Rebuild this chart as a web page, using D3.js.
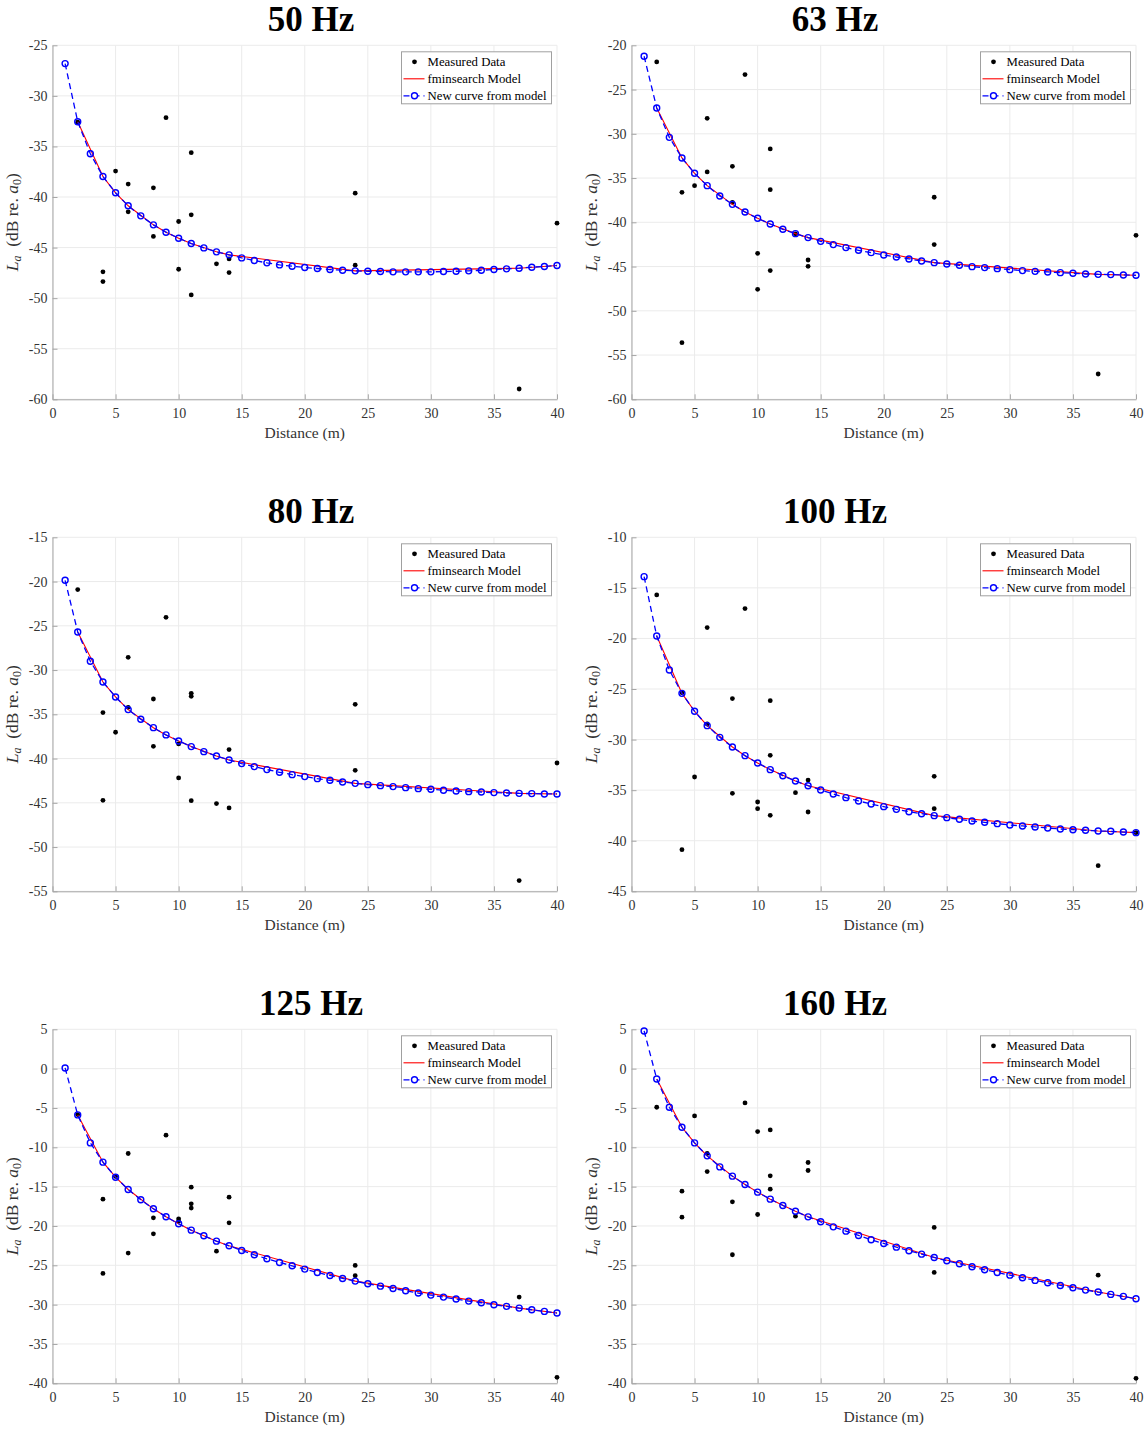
<!DOCTYPE html>
<html>
<head>
<meta charset="utf-8">
<script src="https://cdnjs.cloudflare.com/ajax/libs/d3/7.8.5/d3.min.js"></script>
<style>
  body { margin: 0; background: #fff; }
  svg text { font-family: "Liberation Serif", "Times New Roman", serif; }
</style>
</head>
<body>
<div id="chart"></div>
<script>
// band titles and y-axis ranges
var bandTitles = ["50 Hz", "63 Hz", "80 Hz", "100 Hz", "125 Hz", "160 Hz"];
var yLow = [-60, -60, -55, -45, -40, -40];
var yHigh = [-25, -20, -15, -10, 5, 5];

// distances of the "new curve" circles and of the fminsearch model line
var curveDistance = [1, 2, 3, 4, 5, 6, 7, 8, 9, 10, 11, 12, 13, 14, 15, 16, 17, 18, 19, 20,
  21, 22, 23, 24, 25, 26, 27, 28, 29, 30, 31, 32, 33, 34, 35, 36, 37, 38, 39, 40];
var modelDistance = [2, 4, 5, 6, 8, 9, 10, 11, 13, 14, 24, 37, 40];

// new curve from model (dB), one per band
var curve50 = [-26.81, -32.56, -35.72, -37.97, -39.58, -40.87, -41.86, -42.75, -43.48, -44.07, -44.6, -45.03, -45.42, -45.72, -46.02, -46.28, -46.51, -46.71, -46.84, -46.97, -47.07, -47.17, -47.24, -47.3, -47.34, -47.37, -47.4, -47.4, -47.4, -47.4, -47.37, -47.34, -47.3, -47.24, -47.17, -47.1, -47.04, -46.94, -46.87, -46.77];
var curve63 = [-21.24, -27.08, -30.4, -32.73, -34.46, -35.86, -37.02, -37.97, -38.83, -39.55, -40.19, -40.79, -41.28, -41.73, -42.15, -42.52, -42.86, -43.16, -43.43, -43.69, -43.92, -44.14, -44.37, -44.56, -44.71, -44.86, -45.01, -45.12, -45.24, -45.35, -45.46, -45.54, -45.61, -45.69, -45.76, -45.84, -45.88, -45.91, -45.95, -45.99];
var curve80 = [-19.86, -25.7, -29.01, -31.35, -33.04, -34.47, -35.56, -36.51, -37.33, -38.01, -38.65, -39.22, -39.71, -40.16, -40.57, -40.91, -41.25, -41.55, -41.82, -42.04, -42.27, -42.46, -42.65, -42.8, -42.95, -43.06, -43.17, -43.29, -43.4, -43.47, -43.59, -43.66, -43.74, -43.78, -43.85, -43.89, -43.93, -43.96, -44.0, -44.0];
var curve100 = [-13.89, -19.76, -23.12, -25.43, -27.2, -28.62, -29.78, -30.73, -31.59, -32.31, -32.97, -33.57, -34.09, -34.56, -34.98, -35.38, -35.74, -36.07, -36.37, -36.63, -36.9, -37.13, -37.33, -37.52, -37.72, -37.88, -38.05, -38.18, -38.31, -38.44, -38.54, -38.64, -38.74, -38.84, -38.91, -38.97, -39.04, -39.07, -39.14, -39.2];
var curve125 = [0.09, -5.88, -9.44, -11.89, -13.8, -15.36, -16.67, -17.82, -18.83, -19.72, -20.53, -21.25, -21.93, -22.52, -23.11, -23.66, -24.17, -24.64, -25.06, -25.48, -25.91, -26.29, -26.67, -27.01, -27.35, -27.65, -27.94, -28.24, -28.53, -28.79, -29.04, -29.29, -29.55, -29.76, -30.01, -30.22, -30.44, -30.65, -30.86, -31.07];
var curve160 = [4.79, -1.31, -4.91, -7.45, -9.44, -11.09, -12.49, -13.67, -14.73, -15.7, -16.59, -17.4, -18.12, -18.84, -19.47, -20.11, -20.66, -21.21, -21.76, -22.22, -22.69, -23.15, -23.58, -24.0, -24.42, -24.81, -25.19, -25.57, -25.91, -26.25, -26.58, -26.92, -27.22, -27.56, -27.85, -28.15, -28.4, -28.7, -28.95, -29.25];

// fminsearch model at the measured distances
var model50 = [-32.56, -37.97, -39.58, -40.87, -42.75, -43.48, -44.07, -44.6, -45.42, -45.72, -47.3, -47.04, -46.77];
var model63 = [-27.08, -32.73, -34.46, -35.86, -37.97, -38.83, -39.55, -40.19, -41.28, -41.73, -44.56, -45.88, -45.99];
var model80 = [-25.7, -31.35, -33.04, -34.47, -36.51, -37.33, -38.01, -38.65, -39.71, -40.16, -42.8, -43.93, -44.0];
var model100 = [-19.76, -25.43, -27.2, -28.62, -30.73, -31.59, -32.31, -32.97, -34.09, -34.56, -37.52, -39.04, -39.2];
var model125 = [-5.88, -11.89, -13.8, -15.36, -17.82, -18.83, -19.72, -20.53, -21.93, -22.52, -27.01, -30.44, -31.07];
var model160 = [-1.31, -7.45, -9.44, -11.09, -13.67, -14.73, -15.7, -16.59, -18.12, -18.84, -24.0, -28.4, -29.25];

// measured data points
var measDist50 = [2, 4, 4, 5, 6, 6, 8, 8, 9, 10, 10, 11, 11, 11, 13, 14, 14, 24, 24, 37, 40];
var measLevel50 = [-32.6, -47.4, -48.36, -37.44, -38.72, -41.46, -39.09, -43.9, -32.16, -42.42, -47.14, -35.62, -41.76, -49.68, -46.61, -46.12, -47.47, -39.62, -46.74, -58.98, -42.59];
var measDist63 = [2, 4, 4, 5, 6, 6, 8, 8, 9, 10, 10, 11, 11, 11, 13, 14, 14, 24, 24, 37, 40];
var measLevel63 = [-21.88, -36.61, -53.6, -35.86, -28.25, -34.31, -33.67, -37.74, -23.31, -43.5, -47.57, -31.71, -36.31, -45.46, -41.3, -44.26, -44.97, -37.17, -42.52, -57.14, -41.47];
var measDist80 = [2, 4, 4, 5, 6, 6, 8, 8, 9, 10, 10, 11, 11, 11, 13, 14, 14, 24, 24, 37, 40];
var measLevel80 = [-20.91, -34.81, -44.72, -37.03, -28.56, -34.21, -33.27, -38.62, -24.04, -38.35, -42.19, -32.63, -32.97, -44.76, -45.09, -38.99, -45.58, -33.87, -41.33, -53.79, -40.5];
var measDist100 = [2, 4, 4, 5, 6, 6, 8, 8, 9, 10, 10, 11, 11, 11, 13, 14, 14, 24, 24, 37, 40];
var measLevel100 = [-15.7, -25.36, -40.88, -33.7, -18.93, -28.46, -25.95, -35.31, -17.05, -36.17, -36.83, -26.15, -31.56, -37.49, -35.25, -34.0, -37.16, -33.63, -36.83, -42.47, -39.2];
var measDist125 = [2, 4, 4, 5, 6, 6, 8, 8, 9, 10, 10, 11, 11, 11, 13, 14, 14, 24, 24, 37, 40];
var measLevel125 = [-5.84, -16.59, -26.03, -13.7, -10.79, -23.45, -18.96, -21.0, -8.46, -19.09, -19.39, -15.07, -17.18, -17.73, -23.2, -16.34, -19.6, -25.02, -26.33, -29.04, -39.24];
var measDist160 = [2, 4, 4, 5, 6, 6, 8, 8, 9, 10, 10, 11, 11, 11, 13, 14, 14, 24, 24, 37, 40];
var measLevel160 = [-4.91, -15.58, -18.88, -6.01, -10.79, -13.08, -16.93, -23.66, -4.36, -8.0, -18.54, -7.79, -13.63, -15.32, -18.75, -11.93, -12.95, -20.19, -25.91, -26.25, -39.37];

var xTicks = [0, 5, 10, 15, 20, 25, 30, 35, 40];
var legendLabels = ["Measured Data", "fminsearch Model", "New curve from model"];

var curves = [curve50, curve63, curve80, curve100, curve125, curve160];
var models = [model50, model63, model80, model100, model125, model160];
var measDists = [measDist50, measDist63, measDist80, measDist100, measDist125, measDist160];
var measLevels = [measLevel50, measLevel63, measLevel80, measLevel100, measLevel125, measLevel160];

// layout
var svgWidth = 1148, svgHeight = 1430;
var colLeft = [52.5, 631.5];
var rowTop = [45.3, 537.3, 1029.3];
var titleX = [311, 835];
var plotW = 504.5, plotH = 354;

var axisColor = "#a6a6a6";
var gridColor = "#ebebeb";
var textColor = "#333333";

var svg = d3.select("#chart").append("svg")
  .attr("width", svgWidth)
  .attr("height", svgHeight);

bandTitles.forEach(function(title, i) {
  var col = i % 2, row = Math.floor(i / 2);
  var g = svg.append("g")
    .attr("transform", `translate(${colLeft[col]}, ${rowTop[row]})`);

  var xScale = d3.scaleLinear().domain([0, 40]).range([0, plotW]);
  var yScale = d3.scaleLinear().domain([yLow[i], yHigh[i]]).range([plotH, 0]);
  var yTicks = d3.range(yLow[i], yHigh[i] + 0.1, 5);

  // grid
  g.append("g").selectAll("line.gx").data(xTicks).enter().append("line")
    .attr("x1", d => xScale(d)).attr("x2", d => xScale(d))
    .attr("y1", 0).attr("y2", plotH)
    .attr("stroke", gridColor).attr("stroke-width", 1);
  g.append("g").selectAll("line.gy").data(yTicks).enter().append("line")
    .attr("x1", 0).attr("x2", plotW)
    .attr("y1", d => yScale(d)).attr("y2", d => yScale(d))
    .attr("stroke", gridColor).attr("stroke-width", 1);

  // axes (plain hyphen for negatives, like the original)
  var xAxis = g.append("g")
    .attr("transform", `translate(0, ${plotH})`)
    .call(d3.axisBottom(xScale).tickValues(xTicks).tickSizeInner(-5).tickSizeOuter(0)
      .tickFormat(d => String(d)));
  var yAxis = g.append("g")
    .call(d3.axisLeft(yScale).tickValues(yTicks).tickSizeInner(-5).tickSizeOuter(0)
      .tickFormat(d => String(d)));
  [xAxis, yAxis].forEach(function(ax) {
    ax.select(".domain").attr("stroke", axisColor);
    ax.selectAll(".tick line").attr("stroke", axisColor);
    ax.selectAll(".tick text")
      .attr("fill", textColor)
      .style("font-size", "14px")
      .style("font-family", "Liberation Serif, serif");
  });
  yAxis.selectAll(".tick text").attr("x", -5);
  xAxis.selectAll(".tick text").attr("y", 9);

  // measured points
  g.append("g").selectAll("circle").data(measDists[i]).enter().append("circle")
    .attr("cx", d => xScale(d))
    .attr("cy", (d, k) => yScale(measLevels[i][k]))
    .attr("r", 2.4)
    .attr("fill", "black");

  // fminsearch model
  var modelLine = d3.line()
    .x(d => xScale(d))
    .y((d, k) => yScale(models[i][k]));
  g.append("path")
    .datum(modelDistance)
    .attr("d", modelLine)
    .attr("fill", "none")
    .attr("stroke", "#ff0000")
    .attr("stroke-width", 1.1);

  // new curve from model
  var curveLine = d3.line()
    .x(d => xScale(d))
    .y((d, k) => yScale(curves[i][k]));
  g.append("path")
    .datum(curveDistance)
    .attr("d", curveLine)
    .attr("fill", "none")
    .attr("stroke", "#0000ff")
    .attr("stroke-width", 1.3)
    .attr("stroke-dasharray", "6,4");
  g.append("g").selectAll("circle").data(curveDistance).enter().append("circle")
    .attr("cx", d => xScale(d))
    .attr("cy", (d, k) => yScale(curves[i][k]))
    .attr("r", 3)
    .attr("fill", "none")
    .attr("stroke", "#0000ff")
    .attr("stroke-width", 1.4);

  // title
  svg.append("text")
    .attr("x", titleX[col])
    .attr("y", rowTop[row] - 14)
    .attr("text-anchor", "middle")
    .style("font-size", "35px")
    .style("font-weight", "bold")
    .attr("fill", "#000")
    .text(title);

  // x label
  g.append("text")
    .attr("x", plotW / 2)
    .attr("y", plotH + 39)
    .attr("text-anchor", "middle")
    .style("font-size", "15.5px")
    .attr("fill", textColor)
    .text("Distance (m)");

  // y label: L_a (dB re. a_0)
  var yl = g.append("text")
    .attr("transform", `translate(${-35}, ${plotH / 2}) rotate(-90)`)
    .attr("text-anchor", "middle")
    .style("font-size", "17.5px")
    .attr("fill", textColor);
  yl.append("tspan").style("font-style", "italic").text("L");
  yl.append("tspan").style("font-style", "italic").style("font-size", "12px").attr("dy", 3).text("a");
  yl.append("tspan").attr("dy", -3).text("\u2002(dB re. ");
  yl.append("tspan").style("font-style", "italic").text("a");
  yl.append("tspan").style("font-size", "12px").attr("dy", 3).text("0");
  yl.append("tspan").attr("dy", -3).text(")");

  // legend
  var lgW = 150, lgH = 52;
  var lg = g.append("g").attr("transform", `translate(${plotW - 5.5 - lgW}, 6.5)`);
  lg.append("rect")
    .attr("width", lgW).attr("height", lgH)
    .attr("fill", "white")
    .attr("stroke", "#a0a0a0")
    .attr("stroke-width", 1);
  legendLabels.forEach(function(lab, k) {
    var yy = 10 + k * 17;
    if (k === 0) {
      lg.append("circle").attr("cx", 13).attr("cy", yy).attr("r", 2.4).attr("fill", "black");
    } else if (k === 1) {
      lg.append("line").attr("x1", 2).attr("x2", 23).attr("y1", yy).attr("y2", yy)
        .attr("stroke", "#ff0000").attr("stroke-width", 1.1);
    } else {
      lg.append("line").attr("x1", 2).attr("x2", 23).attr("y1", yy).attr("y2", yy)
        .attr("stroke", "#0000ff").attr("stroke-width", 1.3).attr("stroke-dasharray", "6,4");
      lg.append("circle").attr("cx", 13).attr("cy", yy).attr("r", 3)
        .attr("fill", "white").attr("stroke", "#0000ff").attr("stroke-width", 1.4);
    }
    lg.append("text")
      .attr("x", 26).attr("y", yy + 4.3)
      .style("font-size", "12.8px")
      .attr("fill", "#000")
      .text(lab);
  });
});
</script>
</body>
</html>
